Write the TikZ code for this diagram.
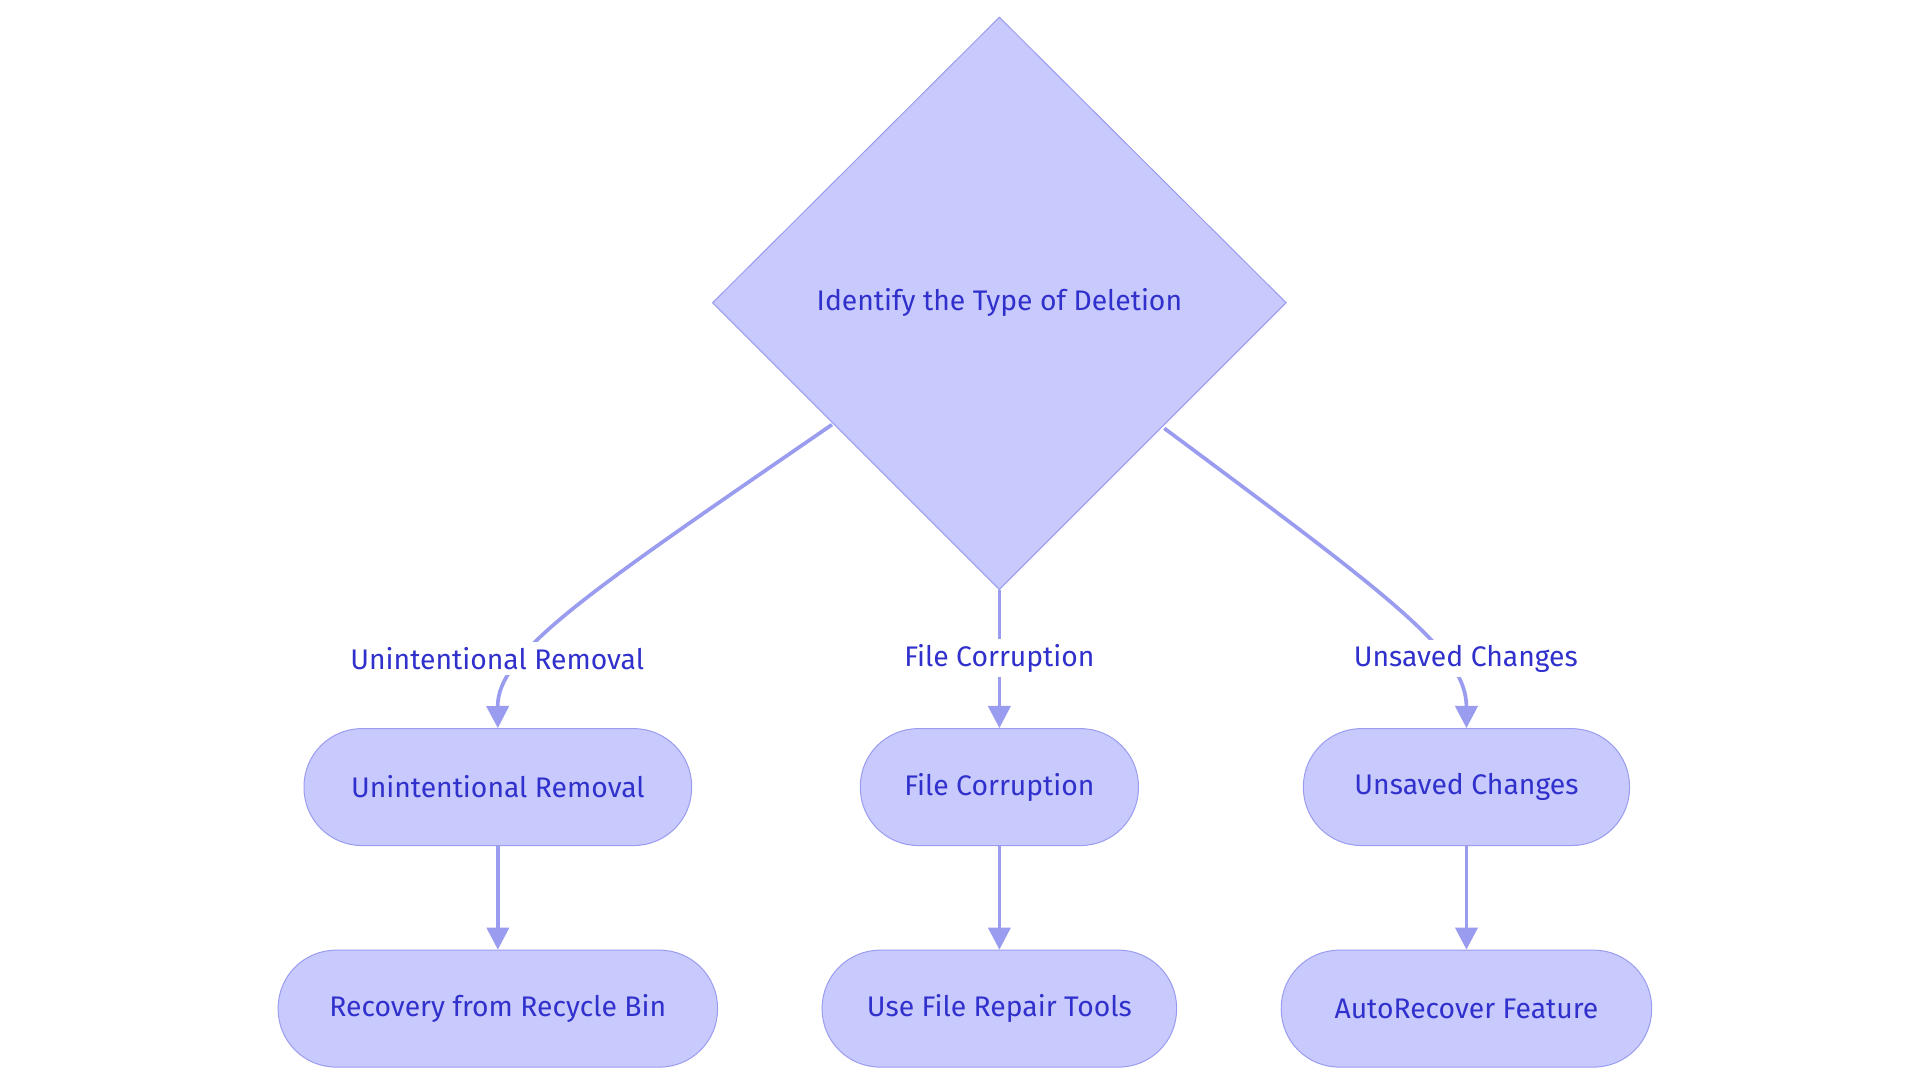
\documentclass[tikz,border=0pt]{standalone}
\usepackage{fontspec}
\setmainfont{Fira Sans}
\usetikzlibrary{shapes.geometric,arrows.meta}
\definecolor{fillc}{HTML}{C8C9FC}
\definecolor{linec}{HTML}{9A9CF0}
\definecolor{textc}{HTML}{3030CC}
\begin{document}
\begin{tikzpicture}[x=0.5pt,y=-0.5pt,
  box/.style={draw=linec,fill=fillc,rounded corners=23.5pt,text=textc,font=\fontsize{11.5}{13}\selectfont,minimum height=47.5pt,inner sep=0pt},
  lab/.style={fill=white,text=textc,font=\fontsize{11.5}{13}\selectfont,inner sep=2pt},
  arr/.style={draw=linec,line width=1.5pt,-{Triangle[length=9pt,width=9pt]}},
  ln/.style={draw=linec,line width=1.5pt}]
\useasboundingbox (0,0) rectangle (1560,880);
\fill[fillc,draw=linec] (812,14) coordinate (dt) -- (1045,246) coordinate (dr) -- (812,479) coordinate (db) -- (579,246) coordinate (dl) -- cycle;
\node[text=textc,font=\fontsize{11.5}{13}\selectfont] (d) at (812,246) {Identify the Type of Deletion};
\node[box,minimum width=157.5pt] (a1) at (404.5,639.5) {Unintentional Removal};
\node[box,minimum width=113pt] (b1) at (812,639.5) {File Corruption};
\node[box,minimum width=132.5pt] (c1) at (1191.5,639.5) {Unsaved Changes};
\node[box,minimum width=178.5pt] (a2) at (404.5,819.5) {Recovery from Recycle Bin};
\node[box,minimum width=144pt] (b2) at (812,819.5) {Use File Repair Tools};
\node[box,minimum width=150.5pt] (c2) at (1191.5,819.5) {AutoRecover Feature};
\coordinate (sa) at (676,345);
\coordinate (sc) at (946,348);
\draw[arr] (sa) .. controls (480,480) and (404,530) .. (a1.north);
\draw[arr] (db) -- (b1.north);
\draw[arr] (sc) .. controls (1130,485) and (1191.5,530) .. (c1.north);
\node[lab] (la) at (404,535) {Unintentional Removal};
\node[lab] (lb) at (812,535) {File Corruption};
\node[lab] (lc) at (1191,535) {Unsaved Changes};
\draw[arr] (a1) -- (a2);
\draw[arr] (b1) -- (b2);
\draw[arr] (c1) -- (c2);
\end{tikzpicture}
\end{document}
